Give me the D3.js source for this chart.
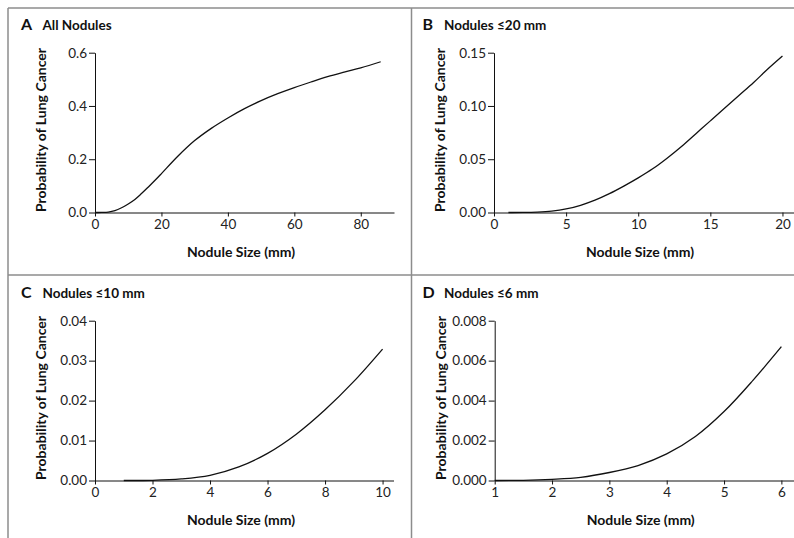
<!DOCTYPE html>
<html>
<head>
<meta charset="utf-8">
<script src="https://cdn.jsdelivr.net/npm/d3@7"></script>
<style>
  body { margin: 0; background: #fff; }
  svg { display: block; }
  .tick text { font-family: Lato, "Open Sans", sans-serif; font-size: 13.5px; fill: #222; }
  .axis path, .axis line { stroke: #111; stroke-width: 1; }
  .axis-title { font-family: Lato, "Open Sans", sans-serif; font-size: 14px; font-weight: bold; fill: #111; }
  .panel-title { font-family: Lato, "Open Sans", sans-serif; font-size: 13.5px; font-weight: bold; fill: #111; }
  .panel-letter { font-family: Lato, "Open Sans", sans-serif; font-size: 16px; font-weight: bold; fill: #111; }
  .curve { fill: none; stroke: #111; stroke-width: 1.3; }
  .frame { stroke: #8c8c8c; stroke-width: 1.5; }
</style>
</head>
<body>
<svg id="chart" width="794" height="538"></svg>
<script>
// Panel A: all nodules
const sizeA = [0, 2, 4, 6, 8, 10, 12, 14, 16, 18, 20, 25, 30, 35, 40, 45, 50, 55, 60, 65, 70, 75, 80, 86];
const probA = [0, 0.0001, 0.0013, 0.0068, 0.0177, 0.032, 0.049, 0.071, 0.095, 0.12, 0.146, 0.212, 0.27, 0.316, 0.355, 0.39, 0.42, 0.446, 0.469, 0.49, 0.51, 0.527, 0.543, 0.566];
const ticksAx = [0, 20, 40, 60, 80];
const ticksAy = [0, 0.2, 0.4, 0.6];

// Panel B: nodules <=20 mm
const sizeB = [1, 2, 3, 4, 5, 6, 7, 8, 9, 10, 11, 12, 13, 14, 15, 16, 17, 18, 19, 20];
const probB = [0, 0.00005, 0.0004, 0.0013, 0.0033, 0.0068, 0.0116, 0.0177, 0.0248, 0.0325, 0.041, 0.051, 0.062, 0.074, 0.086, 0.098, 0.110, 0.122, 0.135, 0.147];
const ticksBx = [0, 5, 10, 15, 20];
const ticksBy = [0, 0.05, 0.10, 0.15];

// Panel C: nodules <=10 mm
const sizeC = [1, 2, 3, 4, 5, 6, 7, 8, 9, 10];
const probC = [0, 0.00005, 0.0004, 0.0013, 0.0034, 0.0068, 0.0116, 0.0177, 0.0248, 0.0329];
const ticksCx = [0, 2, 4, 6, 8, 10];
const ticksCy = [0, 0.01, 0.02, 0.03, 0.04];

// Panel D: nodules <=6 mm
const sizeD = [1, 1.5, 2, 2.5, 3, 3.5, 4, 4.5, 5, 5.5, 6];
const probD = [0, 0.00001, 0.00006, 0.00016, 0.0004, 0.00075, 0.00133, 0.0022, 0.00345, 0.005, 0.0067];
const ticksDx = [1, 2, 3, 4, 5, 6];
const ticksDy = [0, 0.002, 0.004, 0.006, 0.008];

const panels = [
  { letter: "A", title: "All Nodules", sizes: sizeA, probs: probA, tx: ticksAx, ty: ticksAy,
    xDomain: [0, 90], x0: 95, x1: 394, top: 0, yFmt: d3.format(".1f") },
  { letter: "B", title: "Nodules \u226420 mm", sizes: sizeB, probs: probB, tx: ticksBx, ty: ticksBy,
    xDomain: [0, 20.8], x0: 494, x1: 794, top: 0, yFmt: d3.format(".2f") },
  { letter: "C", title: "Nodules \u226410 mm", sizes: sizeC, probs: probC, tx: ticksCx, ty: ticksCy,
    xDomain: [0, 10.38], x0: 95, x1: 393.5, top: 268, yFmt: d3.format(".2f") },
  { letter: "D", title: "Nodules \u22646 mm", sizes: sizeD, probs: probD, tx: ticksDx, ty: ticksDy,
    xDomain: [1, 6.22], x0: 494.7, x1: 794, top: 268, yFmt: d3.format(".3f") }
];

const svg = d3.select("#chart");

// Frame lines
svg.append("line").attr("class", "frame").attr("x1", 8).attr("y1", 8).attr("x2", 794).attr("y2", 8);
svg.append("line").attr("class", "frame").attr("x1", 8).attr("y1", 8).attr("x2", 8).attr("y2", 538);
svg.append("line").attr("class", "frame").attr("x1", 411.5).attr("y1", 8).attr("x2", 411.5).attr("y2", 538);
svg.append("line").attr("class", "frame").attr("x1", 8).attr("y1", 275).attr("x2", 794).attr("y2", 275);

panels.forEach(function (p) {
    var yBase = p.top + 212.5,
        yTop = p.top + 52.7;

    var x = d3.scaleLinear().domain(p.xDomain).range([p.x0, p.x1]);
    var y = d3.scaleLinear().domain([0, d3.max(p.ty)]).range([yBase, yTop]);

    var g = svg.append("g");

    // Curve
    var data = p.sizes.map((s, i) => ({ s: s, v: p.probs[i] }));
    var line = d3.line()
        .x(d => x(d.s))
        .y(d => y(d.v))
        .curve(d3.curveCatmullRom.alpha(0.5));
    g.append("path").datum(data).attr("class", "curve").attr("d", line);

    // Axes
    g.append("g")
        .attr("class", "axis")
        .attr("transform", "translate(0," + yBase + ")")
        .call(d3.axisBottom(x).tickValues(p.tx).tickFormat(d3.format("d")).tickSize(4).tickSizeOuter(0).tickPadding(3));

    g.append("g")
        .attr("class", "axis")
        .attr("transform", "translate(" + p.x0 + ",0)")
        .call(d3.axisLeft(y).tickValues(p.ty).tickFormat(p.yFmt).tickSize(6).tickSizeOuter(0).tickPadding(2));

    // Axis titles
    g.append("text")
        .attr("class", "axis-title")
        .attr("transform", "translate(" + (p.x0 - 49) + "," + (p.top + 130) + ") rotate(-90)")
        .attr("text-anchor", "middle")
        .text("Probability of Lung Cancer");

    g.append("text")
        .attr("class", "axis-title")
        .attr("x", p.x0 + 146)
        .attr("y", p.top + 256.5)
        .attr("text-anchor", "middle")
        .text("Nodule Size (mm)");

    // Panel title
    var lx = p.x0 < 200 ? 21 : 422.5;
    g.append("text")
        .attr("class", "panel-letter")
        .attr("x", lx).attr("y", p.top + 29.5)
        .text(p.letter);
    g.append("text")
        .attr("class", "panel-title")
        .attr("x", lx + 21.5).attr("y", p.top + 29.5)
        .text(p.title);
});
</script>
</body>
</html>
